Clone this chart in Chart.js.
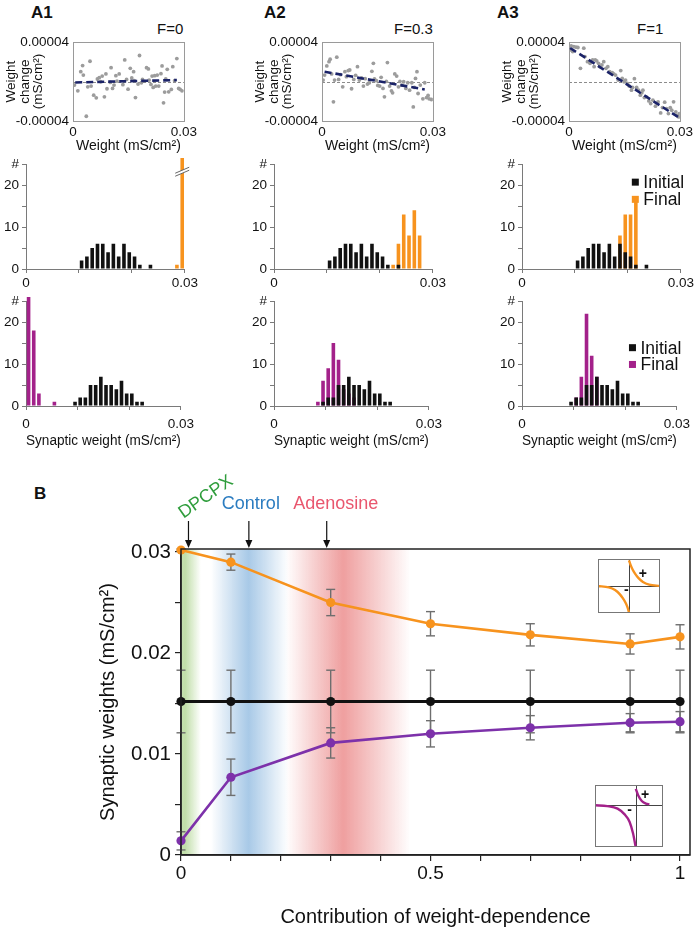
<!DOCTYPE html>
<html>
<head>
<meta charset="utf-8">
<title>Weight-dependent plasticity</title>
<script src="https://cdn.jsdelivr.net/npm/chart.js@4.4.1/dist/chart.umd.min.js"></script>
<style>
  html, body { margin: 0; padding: 0; background: #fff; }
  #page { position: relative; width: 700px; height: 936px; overflow: hidden;
          font-family: 'Liberation Sans', Arial, Helvetica, sans-serif; color: #111; }
  #page canvas { position: absolute; }
  .txt { position: absolute; white-space: nowrap; line-height: 1; }
  .panel { font-weight: bold; font-size: 17px; }
  .fval { font-size: 15px; }
</style>
</head>
<body>
<div id="page">
  <div class="txt panel" style="left:31px; top:4px;">A1</div>
  <div class="txt panel" style="left:264px; top:4px;">A2</div>
  <div class="txt panel" style="left:497px; top:4px;">A3</div>
  <div class="txt fval" style="left:157px; top:21px;">F=0</div>
  <div class="txt fval" style="left:394px; top:21px;">F=0.3</div>
  <div class="txt fval" style="left:637px; top:21px;">F=1</div>
  <div class="txt panel" style="left:34px; top:485px;">B</div>

  <canvas id="scatterA1" width="200" height="130" style="left:0px; top:30px;"></canvas>
  <canvas id="scatterA2" width="200" height="130" style="left:249px; top:30px;"></canvas>
  <canvas id="scatterA3" width="200" height="130" style="left:496px; top:30px;"></canvas>

  <canvas id="histTopA1" width="200" height="137" style="left:0px; top:153px;"></canvas>
  <canvas id="histTopA2" width="200" height="137" style="left:248px; top:153px;"></canvas>
  <canvas id="histTopA3" width="200" height="137" style="left:496px; top:153px;"></canvas>

  <canvas id="histBotA1" width="200" height="165" style="left:0px; top:290px;"></canvas>
  <canvas id="histBotA2" width="200" height="165" style="left:248px; top:290px;"></canvas>
  <canvas id="histBotA3" width="200" height="165" style="left:496px; top:290px;"></canvas>

  <canvas id="chartB" width="700" height="466" style="left:0px; top:470px;"></canvas>
</div>

<script>
// ---- A: weight change vs weight (scatter + linear fit) ----
const scatterX1 = [0.0004, 0.0013, 0.0021, 0.0026, 0.0028, 0.0036, 0.0040, 0.0046, 0.0049, 0.0056, 0.0063, 0.0066, 0.0071, 0.0075, 0.0079, 0.0085, 0.0089, 0.0092, 0.0101, 0.0103, 0.0107, 0.0111, 0.0116, 0.0119, 0.0125, 0.0135, 0.0140, 0.0145, 0.0149, 0.0155, 0.0159, 0.0164, 0.0166, 0.0169, 0.0176, 0.0180, 0.0185, 0.0188, 0.0199, 0.0204, 0.0206, 0.0211, 0.0214, 0.0217, 0.0221, 0.0224, 0.0228, 0.0232, 0.0238, 0.0241, 0.0245, 0.0248, 0.0251, 0.0255, 0.0259, 0.0266, 0.0270, 0.0275, 0.0281, 0.0286, 0.0290, 0.0295];
const scatterY1 = [-0.36e-5, -0.94e-5, 1.0e-5, 1.62e-5, 0.66e-5, -3.52e-5, -0.53e-5, 2.06e-5, -0.46e-5, -1.38e-5, -1.65e-5, 0.26e-5, 0.39e-5, -0.02e-5, 0.56e-5, -1.55e-5, 0.77e-5, -0.73e-5, -0.09e-5, 1.41e-5, -0.70e-5, -0.36e-5, 0.60e-5, 0.05e-5, 0.77e-5, -0.32e-5, 2.19e-5, 0.22e-5, -0.77e-5, 1.34e-5, 0.36e-5, 1.0e-5, 0.09e-5, -1.62e-5, -0.26e-5, 2.64e-5, -0.12e-5, 0.22e-5, 1.41e-5, 1.28e-5, 0.15e-5, -0.29e-5, 0.56e-5, -0.60e-5, 0.60e-5, -0.46e-5, 0.66e-5, -0.46e-5, 0.80e-5, 1.58e-5, -2.16e-5, -1.07e-5, 0.26e-5, 1.24e-5, -1.04e-5, -0.80e-5, 1.51e-5, 0.09e-5, 2.33e-5, -0.70e-5, -0.80e-5, -0.94e-5];
const fitX1 = [0.0006, 0.0281];
const fitY1 = [-0.09e-5, 0.15e-5];

const scatterX2 = [0.0003, 0.0007, 0.0013, 0.0019, 0.0022, 0.0026, 0.0031, 0.0034, 0.0040, 0.0045, 0.0050, 0.0056, 0.0062, 0.0066, 0.0071, 0.0075, 0.0080, 0.0086, 0.0091, 0.0096, 0.0101, 0.0107, 0.0112, 0.0117, 0.0123, 0.0128, 0.0135, 0.0139, 0.0142, 0.0147, 0.0151, 0.0156, 0.0160, 0.0165, 0.0169, 0.0174, 0.0177, 0.0183, 0.0188, 0.0191, 0.0197, 0.0202, 0.0207, 0.0211, 0.0216, 0.0221, 0.0227, 0.0232, 0.0237, 0.0243, 0.0247, 0.0250, 0.0253, 0.0257, 0.0260, 0.0266, 0.0273, 0.0278, 0.0283, 0.0287, 0.0290, 0.0296];
const scatterY2 = [0.15e-5, 0.66e-5, 1.58e-5, 2.02e-5, 2.26e-5, 0.77e-5, -2.06e-5, 0.15e-5, 2.47e-5, 0.22e-5, 0.70e-5, -0.53e-5, 1.0e-5, 0.49e-5, 1.11e-5, 1.17e-5, -0.73e-5, 0.22e-5, 0.63e-5, 1.51e-5, 0.15e-5, 0.36e-5, -0.46e-5, 0.29e-5, -0.26e-5, -0.12e-5, 1.04e-5, 1.85e-5, 0.26e-5, 0.09e-5, -0.39e-5, -0.46e-5, 0.43e-5, -0.70e-5, -1.55e-5, 0.02e-5, 1.92e-5, -0.46e-5, -0.94e-5, -1.14e-5, 0.77e-5, 0.56e-5, -0.53e-5, 0.02e-5, -0.36e-5, -0.02e-5, -0.70e-5, -0.12e-5, -0.87e-5, -0.12e-5, -2.57e-5, -0.60e-5, 0.32e-5, 1.0e-5, -1.21e-5, -0.36e-5, -1.75e-5, -0.12e-5, -1.62e-5, -1.41e-5, -1.75e-5, -1.82e-5];
const fitX2 = [0.0007, 0.0278];
const fitY2 = [1.0e-5, -0.8e-5];

const scatterX3 = [0.0003, 0.0006, 0.0010, 0.0013, 0.0019, 0.0024, 0.0031, 0.0040, 0.0043, 0.0050, 0.0057, 0.0064, 0.0068, 0.0071, 0.0075, 0.0080, 0.0084, 0.0089, 0.0094, 0.0100, 0.0105, 0.0110, 0.0117, 0.0121, 0.0126, 0.0133, 0.0140, 0.0144, 0.0149, 0.0153, 0.0158, 0.0163, 0.0169, 0.0172, 0.0177, 0.0183, 0.0188, 0.0193, 0.0197, 0.0200, 0.0204, 0.0209, 0.0216, 0.0221, 0.0227, 0.0234, 0.0241, 0.0248, 0.0253, 0.0259, 0.0264, 0.0269, 0.0274, 0.0278, 0.0283, 0.0289, 0.0292, 0.0297, 0.0299];
const scatterY3 = [3.21e-5, 3.62e-5, 3.04e-5, 3.55e-5, 3.49e-5, 3.45e-5, 1.34e-5, 3.38e-5, 2.53e-5, 2.02e-5, 1.85e-5, 2.19e-5, 1.51e-5, 2.19e-5, 2.09e-5, 1.85e-5, 1.51e-5, 1.68e-5, 2.02e-5, 1.34e-5, 1.51e-5, 1.0e-5, 0.90e-5, 0.77e-5, 0.66e-5, 0.15e-5, 1.11e-5, 0.32e-5, -0.02e-5, 0.15e-5, -0.19e-5, -0.46e-5, -0.87e-5, -0.60e-5, 0.29e-5, -0.60e-5, -0.87e-5, -1.38e-5, -1.14e-5, -0.87e-5, -1.62e-5, -1.55e-5, -1.96e-5, -2.23e-5, -1.89e-5, -2.50e-5, -2.06e-5, -3.18e-5, -2.64e-5, -2.09e-5, -2.74e-5, -3.25e-5, -2.64e-5, -2.91e-5, -2.06e-5, -3.08e-5, -3.42e-5, -3.59e-5, -3.25e-5];
const fitX3 = [0.0003, 0.0298];
const fitY3 = [3.4e-5, -3.66e-5];
const scatterYTicks = [-4e-5, 4e-5];

// ---- A: histograms, bins of 0.001 mS/cm2 ----
const binCenters = [0.0005, 0.0015, 0.0025, 0.0035, 0.0045, 0.0055, 0.0065, 0.0075, 0.0085, 0.0095, 0.0105, 0.0115, 0.0125, 0.0135, 0.0145, 0.0155, 0.0165, 0.0175, 0.0185, 0.0195, 0.0205, 0.0215, 0.0225, 0.0235, 0.0245, 0.0255, 0.0265, 0.0275, 0.0285, 0.0295];
const initialTop    = [0,0,0,0,0,0,0,0,0,0, 2,3,5,6,6,4,6,3,6,4, 3,1,0,1,0,0,0,0,0,0];
const finalTopA1    = [0,0,0,0,0,0,0,0,0,0, 0,0,0,0,0,0,0,0,0,0, 0,0,0,0,0,0,0,0,1,49];
const finalTopA2    = [0,0,0,0,0,0,0,0,0,0, 0,0,0,0,0,0,0,0,0,0, 0,0,1,6,13,8,14,8,0,0];
const finalTopA3    = [0,0,0,0,0,0,0,0,0,0, 0,0,0,0,0,0,0,0,8,13, 13,16,0,0,0,0,0,0,0,0];
const initialBottom = [0,0,0,0,0,0,0,0,0,1, 2,2,5,5,7,5,5,4,6,3, 3,1,1,0,0,0,0,0,0,0];
const finalBotA1    = [26,18,3,0,0,1,0,0,0,0, 0,0,0,0,0,0,0,0,0,0, 0,0,0,0,0,0,0,0,0,0];
const finalBotA2    = [0,0,0,0,0,0,0,0,1,6, 9,15,11,4,3,2,0,0,0,0, 0,0,0,0,0,0,0,0,0,0];
const finalBotA3    = [0,0,0,0,0,0,0,0,0,0, 2,7,22,12,7,0,0,0,0,0, 0,0,0,0,0,0,0,0,0,0];

// ---- B: mean synaptic weights vs contribution of weight-dependence ----
const contribution = [0, 0.1, 0.3, 0.5, 0.7, 0.9, 1];
const weightPot    = [0.0302, 0.0290, 0.0250, 0.0229, 0.0218, 0.0209, 0.0216];
const weightPotErr = [0.0001, 0.0008, 0.0013, 0.0012, 0.0011, 0.0010, 0.0012];
const weightInit    = [0.0152, 0.0152, 0.0152, 0.0152, 0.0152, 0.0152, 0.0152];
const weightInitErr = [0.0031, 0.0031, 0.0031, 0.0031, 0.0031, 0.0031, 0.0031];
const weightDep    = [0.0014, 0.0077, 0.0111, 0.0120, 0.0126, 0.0131, 0.0132];
const weightDepErr = [0.0009, 0.0018, 0.0015, 0.0013, 0.0012, 0.0009, 0.0010];

const bandNames = ['DPCPX', 'Control', 'Adenosine'];
const bandFrom  = [0, 0.06, 0.21];
const bandPeak  = [0.008, 0.135, 0.325];
const bandTo    = [0.04, 0.215, 0.46];
const arrowAt   = [0.015, 0.136, 0.292];
const labelAt   = [0.05, 0.14, 0.31];

// STDP windows in the insets
const potWinPosX = [0, 0.05, 0.12, 0.2, 0.3, 0.45, 0.65, 1.0];
const potWinPosY = [0.95, 0.78, 0.6, 0.45, 0.3, 0.15, 0.05, 0.0];
const potWinNegX = [-1.0, -0.65, -0.45, -0.3, -0.2, -0.12, -0.05, 0];
const potWinNegY = [0, -0.05, -0.15, -0.3, -0.45, -0.6, -0.78, -0.98];
const depWinPosX = [0, 0.09, 0.22, 0.37, 0.5];
const depWinPosY = [0.38, 0.22, 0.09, 0.03, 0.01];
const depWinNegX = [-1.5, -1.05, -0.67, -0.42, -0.23, -0.10, -0.01];
const depWinNegY = [-0.01, -0.03, -0.09, -0.22, -0.40, -0.68, -0.98];

// colours
const ORANGE = '#f7931e';
const MAGENTA = '#a3218a';
const PURPLE = '#7d31aa';
const NAVY = '#1b2368';
const DOT_GRAY = '#9c9c9c';
const AXIS_GRAY = '#7a7a7a';
const FRAME = '#222';
const bandRGB = ['150,200,110', '110,165,215', '228,95,95'];
const labelColors = ['#2f9d3c', '#2b7cc0', '#e9566e'];
const FONT = "'Liberation Sans', Arial, Helvetica, sans-serif";

Chart.defaults.font.family = FONT;
Chart.defaults.color = '#111';
Chart.defaults.animation = false;
Chart.defaults.responsive = false;
Chart.defaults.events = [];
Chart.defaults.plugins.legend.display = false;
Chart.defaults.plugins.tooltip.enabled = false;

const pairs = (xs, ys) => xs.map((x, i) => ({ x, y: ys[i] }));

function line(ctx, x1, y1, x2, y2) {
    ctx.beginPath();
    ctx.moveTo(x1, y1);
    ctx.lineTo(x2, y2);
    ctx.stroke();
}

// ---------- scatter panels ----------
const scatterFrame = {
    id: 'scatterFrame',
    beforeDatasetsDraw(chart) {
        const { ctx, chartArea: a, scales: { y } } = chart;
        const y0 = Math.round(y.getPixelForValue(0)) + 0.5;
        ctx.save();
        ctx.strokeStyle = '#8c8c8c';
        ctx.lineWidth = 1;
        ctx.setLineDash([3, 2]);
        line(ctx, a.left, y0, a.right, y0);
        ctx.setLineDash([]);
        ctx.strokeStyle = '#9a9a9a';
        ctx.strokeRect(Math.round(a.left) + 0.5, Math.round(a.top) + 0.5, Math.round(a.width), Math.round(a.height));
        ctx.restore();
    }
};

function makeScatter(id, xs, ys, fitX, fitY) {
    return new Chart(document.getElementById(id), {
        type: 'scatter',
        data: {
            datasets: [
                { data: pairs(fitX, fitY), showLine: true, borderColor: NAVY, borderWidth: 2.6,
                  borderDash: [7, 4], pointRadius: 0 },
                { data: pairs(xs, ys), pointRadius: 1.9, pointBackgroundColor: DOT_GRAY, pointBorderWidth: 0 }
            ]
        },
        options: {
            layout: { padding: { left: 0, top: 12, right: 13, bottom: 0 } },
            scales: {
                x: {
                    type: 'linear', min: 0, max: 0.03,
                    grid: { display: false, drawTicks: false }, border: { display: false },
                    ticks: { stepSize: 0.03, padding: 3, maxRotation: 0, autoSkip: false, font: { size: 13.5 },
                             callback: v => (v === 0 ? '0' : v.toFixed(2)) },
                    title: { display: true, text: 'Weight (mS/cm²)', font: { size: 14 }, padding: { top: 0, bottom: 5 } },
                    afterFit: s => { s.height = 39; }
                },
                y: {
                    type: 'linear', min: -4e-5, max: 4e-5,
                    grid: { display: false, drawTicks: false }, border: { display: false },
                    afterBuildTicks: s => { s.ticks = scatterYTicks.map(value => ({ value })); },
                    ticks: { padding: 4, autoSkip: false, font: { size: 13.5 },
                             callback: v => v.toFixed(5) },
                    title: { display: true, text: ['Weight', 'change', '(mS/cm²)'],
                             font: { size: 13.5, lineHeight: 1 }, padding: { top: 5, bottom: 0 } },
                    afterFit: s => { s.width = 73; }
                }
            }
        },
        plugins: [scatterFrame]
    });
}

makeScatter('scatterA1', scatterX1, scatterY1, fitX1, fitY1);
makeScatter('scatterA2', scatterX2, scatterY2, fitX2, fitY2);
makeScatter('scatterA3', scatterX3, scatterY3, fitX3, fitY3);

// ---------- histograms ----------
const histExtras = {
    id: 'histExtras',
    afterDatasetsDraw(chart, args, o) {
        const { ctx, scales: { x, y } } = chart;
        ctx.save();
        if (o.breakX !== undefined) {
            const cx = x.getPixelForValue(o.breakX);
            const cy = y.getPixelForValue(o.breakY);
            ctx.fillStyle = '#fff';
            ctx.beginPath();
            ctx.moveTo(cx - 7, cy + 2);
            ctx.lineTo(cx + 7, cy - 4);
            ctx.lineTo(cx + 7, cy - 1);
            ctx.lineTo(cx - 7, cy + 5);
            ctx.closePath();
            ctx.fill();
            ctx.strokeStyle = '#666';
            ctx.lineWidth = 1;
            line(ctx, cx - 7, cy + 2, cx + 7, cy - 4);
            line(ctx, cx - 7, cy + 5, cx + 7, cy - 1);
        }
        if (o.legendY) {
            const lx = x.getPixelForValue(o.legendX);
            ctx.font = '17.5px ' + FONT;
            ctx.textBaseline = 'middle';
            chart.data.datasets.forEach((ds, i) => {
                const ly = y.getPixelForValue(o.legendY[i]);
                ctx.fillStyle = ds.backgroundColor;
                ctx.fillRect(lx - 3.5, ly - 3.5, 7, 7);
                ctx.fillStyle = '#111';
                ctx.fillText(ds.label, lx + 8, ly + 1);
            });
        }
        ctx.restore();
    }
};

function makeHist(id, initial, final, finalColor, cfg) {
    const toXY = counts => binCenters.map((x, i) => ({ x, y: counts[i] }));
    const barStyle = { barThickness: 3.6, grouped: false, borderWidth: 0, inflateAmount: 0,
                       clip: { left: 4, top: 6, right: 4, bottom: 0 } };
    return new Chart(document.getElementById(id), {
        type: 'bar',
        data: {
            datasets: [
                Object.assign({ label: 'Initial', data: toXY(initial), backgroundColor: '#111' }, barStyle),
                Object.assign({ label: 'Final', data: toXY(final), backgroundColor: finalColor }, barStyle)
            ]
        },
        options: {
            layout: { padding: { left: 0, top: 10, right: 14, bottom: 0 } },
            plugins: { histExtras: cfg.extras || {} },
            scales: {
                x: {
                    type: 'linear', min: 0, max: 0.03, offset: false,
                    grid: { offset: false, drawOnChartArea: false, drawTicks: true, tickLength: 4, color: AXIS_GRAY },
                    border: { color: AXIS_GRAY },
                    ticks: { stepSize: 0.01, padding: cfg.tickPad, maxRotation: 0, autoSkip: false, font: { size: 13.5 },
                             callback: v => (v === 0 ? '0' : (Math.abs(v - 0.03) < 1e-9 ? '0.03' : '')) },
                    title: cfg.title
                        ? { display: true, text: 'Synaptic weight (mS/cm²)', font: { size: 14 }, padding: { top: 0, bottom: 5 } }
                        : { display: false },
                    afterFit: s => { s.height = cfg.xHeight; }
                },
                y: {
                    type: 'linear', min: 0, max: 25,
                    grid: { drawOnChartArea: false, drawTicks: true, tickLength: 4, color: AXIS_GRAY },
                    border: { color: AXIS_GRAY },
                    ticks: { stepSize: 5, padding: 3, autoSkip: false, font: { size: 13.5 },
                             callback: v => (v === 25 ? '#' : (v % 10 === 0 ? String(v) : '')) },
                    afterFit: s => { s.width = 26; }
                }
            }
        },
        plugins: [histExtras]
    });
}

const topCfg = { xHeight: 21, tickPad: 2, title: false };
const botCfg = { xHeight: 49, tickPad: 6, title: true };
makeHist('histTopA1', initialTop, finalTopA1, ORANGE, Object.assign({ extras: { breakX: 0.0295, breakY: 23.3 } }, topCfg));
makeHist('histTopA2', initialTop, finalTopA2, ORANGE, topCfg);
makeHist('histTopA3', initialTop, finalTopA3, ORANGE, Object.assign({ extras: { legendX: 0.0214, legendY: [20.7, 16.6] } }, topCfg));
makeHist('histBotA1', initialBottom, finalBotA1, MAGENTA, botCfg);
makeHist('histBotA2', initialBottom, finalBotA2, MAGENTA, botCfg);
makeHist('histBotA3', initialBottom, finalBotA3, MAGENTA, Object.assign({ extras: { legendX: 0.0214, legendY: [13.9, 9.9] } }, botCfg));

// ---------- B ----------
const bFigure = {
    id: 'bFigure',
    beforeDraw(chart) {
        const { ctx, chartArea: a, scales: { x } } = chart;
        ctx.save();
        bandNames.forEach((name, i) => {
            const x0 = x.getPixelForValue(bandFrom[i]);
            const x1 = x.getPixelForValue(bandTo[i]);
            const t = (bandPeak[i] - bandFrom[i]) / (bandTo[i] - bandFrom[i]);
            const g = ctx.createLinearGradient(x0, 0, x1, 0);
            const c = a2 => 'rgba(' + bandRGB[i] + ',' + a2 + ')';
            g.addColorStop(0, i === 0 ? c(0.55) : c(0));
            if (i > 0) g.addColorStop(t * 0.5, c(0.3));
            g.addColorStop(t, c(0.6));
            g.addColorStop(t + (1 - t) * 0.5, c(0.3));
            g.addColorStop(1, c(0));
            ctx.fillStyle = g;
            ctx.fillRect(x0, a.top, x1 - x0, a.bottom - a.top);
        });
        ctx.restore();
    },
    beforeDatasetsDraw(chart) {
        const { ctx, scales: { y } } = chart;
        ctx.save();
        ctx.strokeStyle = '#6e6e6e';
        ctx.lineWidth = 1.4;
        chart.data.datasets.forEach((ds, di) => {
            const meta = chart.getDatasetMeta(di);
            ds.errors.forEach((e, j) => {
                const px = meta.data[j].x;
                const v = ds.data[j].y;
                const yt = y.getPixelForValue(v + e);
                const yb = y.getPixelForValue(v - e);
                line(ctx, px, yt, px, yb);
                line(ctx, px - 4.5, yt, px + 4.5, yt);
                line(ctx, px - 4.5, yb, px + 4.5, yb);
            });
        });
        ctx.restore();
    },
    afterDraw(chart) {
        const { ctx, chartArea: a, scales: { x } } = chart;
        ctx.save();
        ctx.strokeStyle = FRAME;
        ctx.lineWidth = 1.5;
        ctx.strokeRect(a.left, a.top, a.width, a.height);

        ctx.font = '18px ' + FONT;
        ctx.textAlign = 'center';
        ctx.textBaseline = 'middle';
        bandNames.forEach((name, i) => {
            ctx.fillStyle = labelColors[i];
            const lx = x.getPixelForValue(labelAt[i]);
            if (i === 0) {
                ctx.save();
                ctx.translate(lx, a.top - 52);
                ctx.rotate(-35 * Math.PI / 180);
                ctx.fillText(name, 0, 0);
                ctx.restore();
            } else {
                ctx.fillText(name, lx, a.top - 45);
            }
            const ax = x.getPixelForValue(arrowAt[i]);
            ctx.strokeStyle = '#111';
            ctx.fillStyle = '#111';
            ctx.lineWidth = 1.2;
            line(ctx, ax, a.top - 28, ax, a.top - 7);
            ctx.beginPath();
            ctx.moveTo(ax - 3.5, a.top - 9);
            ctx.lineTo(ax + 3.5, a.top - 9);
            ctx.lineTo(ax, a.top - 1);
            ctx.closePath();
            ctx.fill();
        });
        ctx.restore();
    }
};

const lineStyle = { borderWidth: 2.6, pointRadius: 4.6, pointBorderWidth: 0, tension: 0, clip: 8 };
const chartB = new Chart(document.getElementById('chartB'), {
    type: 'line',
    data: {
        datasets: [
            Object.assign({ label: 'Final, potentiated', data: pairs(contribution, weightPot), errors: weightPotErr,
                            borderColor: ORANGE, backgroundColor: ORANGE }, lineStyle),
            Object.assign({ label: 'Initial', data: pairs(contribution, weightInit), errors: weightInitErr,
                            borderColor: '#111', backgroundColor: '#111' }, lineStyle, { borderWidth: 3 }),
            Object.assign({ label: 'Final, depressed', data: pairs(contribution, weightDep), errors: weightDepErr,
                            borderColor: PURPLE, backgroundColor: PURPLE }, lineStyle)
        ]
    },
    options: {
        layout: { padding: { left: 0, top: 79, right: 10, bottom: 0 } },
        scales: {
            x: {
                type: 'linear', min: 0, max: 1.02,
                grid: { drawOnChartArea: false, drawTicks: true, tickLength: 6, color: FRAME, lineWidth: 1.2 },
                border: { color: FRAME, width: 1.5 },
                ticks: { stepSize: 0.1, includeBounds: false, autoSkip: false, maxRotation: 0, padding: 1,
                         font: { size: 19 },
                         callback: v => { const t = Math.round(v * 10); return t % 5 === 0 ? String(t / 10) : ''; } },
                title: { display: true, text: 'Contribution of weight-dependence', font: { size: 20 },
                         padding: { top: 0, bottom: 7 } },
                afterFit: s => { s.height = 81; }
            },
            y: {
                type: 'linear', min: 0, max: 0.0303,
                grid: { drawOnChartArea: false, drawTicks: true, tickLength: 6, color: FRAME, lineWidth: 1.2 },
                border: { color: FRAME, width: 1.5 },
                ticks: { stepSize: 0.005, includeBounds: false, autoSkip: false, padding: 4, font: { size: 20.5 },
                         callback: v => { const t = Math.round(v * 1000); return t % 10 === 0 ? (t === 0 ? '0' : (t / 1000).toFixed(2)) : ''; } },
                title: { display: true, text: 'Synaptic weights (mS/cm²)', font: { size: 20 },
                         padding: { top: 96, bottom: 0 } },
                afterFit: s => { s.width = 181; }
            }
        }
    },
    plugins: [bFigure]
});

// ---------- insets (STDP windows) ----------
const insetFrame = {
    id: 'insetFrame',
    beforeDraw(chart) {
        const { ctx, chartArea: a, scales: { x, y } } = chart;
        ctx.save();
        ctx.fillStyle = '#fff';
        ctx.fillRect(0, 0, chart.width, chart.height);
        ctx.strokeStyle = '#444';
        ctx.lineWidth = 1;
        const x0 = Math.round(x.getPixelForValue(0)) + 0.5;
        const y0 = Math.round(y.getPixelForValue(0)) + 0.5;
        line(ctx, a.left, y0, a.right, y0);
        line(ctx, x0, a.top, x0, a.bottom);
        ctx.restore();
    },
    afterDatasetsDraw(chart, args, o) {
        const { ctx, scales: { x, y } } = chart;
        ctx.save();
        ctx.strokeStyle = '#777';
        ctx.lineWidth = 1;
        ctx.strokeRect(0.5, 0.5, chart.width - 1, chart.height - 1);
        ctx.fillStyle = '#111';
        ctx.font = 'bold 14px ' + FONT;
        ctx.textAlign = 'center';
        ctx.textBaseline = 'middle';
        ctx.fillText('+', x.getPixelForValue(o.plus[0]), y.getPixelForValue(o.plus[1]));
        ctx.fillText('-', x.getPixelForValue(o.minus[0]), y.getPixelForValue(o.minus[1]));
        ctx.restore();
    }
};

function addInset(boxX, boxY, posX, posY, negX, negY, rangeX, rangeY, color, plus, minus) {
    const sx = chartB.scales.x;
    const sy = chartB.scales.y;
    const host = chartB.canvas;
    const left = Math.round(sx.getPixelForValue(boxX[0]));
    const right = Math.round(sx.getPixelForValue(boxX[1]));
    const top = Math.round(sy.getPixelForValue(boxY[1]));
    const bottom = Math.round(sy.getPixelForValue(boxY[0]));
    const cv = document.createElement('canvas');
    cv.width = right - left;
    cv.height = bottom - top;
    cv.style.left = (host.offsetLeft + left) + 'px';
    cv.style.top = (host.offsetTop + top) + 'px';
    document.getElementById('page').appendChild(cv);
    const curve = { borderColor: color, borderWidth: 2.4, pointRadius: 0, cubicInterpolationMode: 'monotone' };
    return new Chart(cv, {
        type: 'line',
        data: {
            datasets: [
                Object.assign({ data: pairs(posX, posY) }, curve),
                Object.assign({ data: pairs(negX, negY) }, curve)
            ]
        },
        options: {
            layout: { padding: 0 },
            plugins: { insetFrame: { plus, minus } },
            scales: {
                x: { type: 'linear', display: false, min: rangeX[0], max: rangeX[1] },
                y: { type: 'linear', display: false, min: rangeY[0], max: rangeY[1] }
            }
        },
        plugins: [insetFrame]
    });
}

addInset([0.835, 0.96], [0.0240, 0.0293], potWinPosX, potWinPosY, potWinNegX, potWinNegY,
         [-1, 1], [-1, 1], ORANGE, [0.45, 0.45], [-0.09, -0.17]);
addInset([0.83, 0.965], [0.0008, 0.0069], depWinPosX, depWinPosY, depWinNegX, depWinNegY,
         [-1.5, 1], [-1, 0.47], MAGENTA, [0.34, 0.22], [-0.23, -0.12]);
</script>
</body>
</html>
